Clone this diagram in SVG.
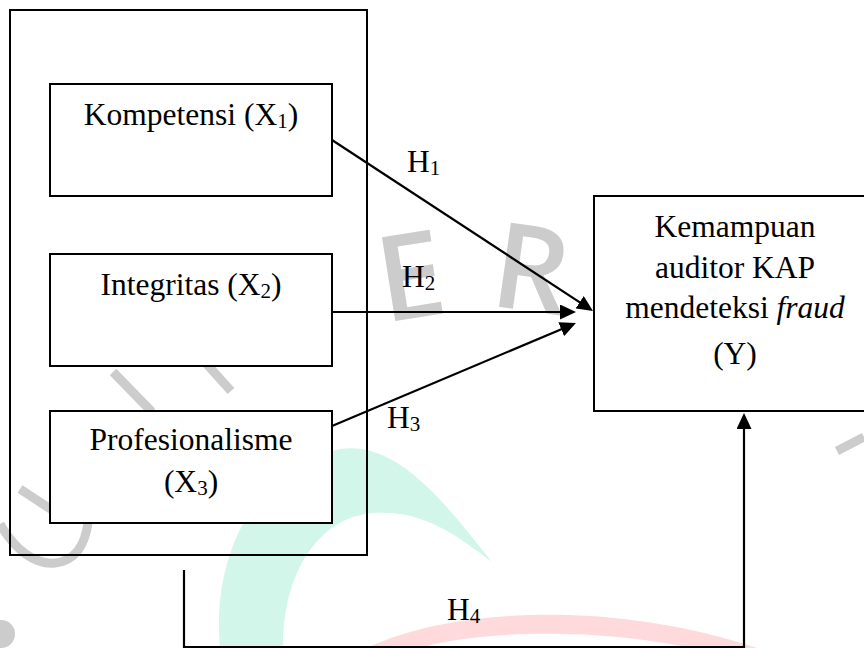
<svg xmlns="http://www.w3.org/2000/svg" width="864" height="648" viewBox="0 0 864 648">
  <style>
    .box { fill: #ffffff; stroke: #000000; stroke-width: 2; }
    .frame { fill: none; stroke: #000000; stroke-width: 2; }
    .lbl { font-family: "Liberation Serif", "Times New Roman", serif; font-size: 31.5px; fill: #000000; }
    .sub { font-size: 21px; }
    .conn { fill: none; stroke: #000000; stroke-width: 2.2; }
    .wm { fill: none; stroke: #cccccc; stroke-width: 9; stroke-linecap: butt; }
    .wmt { font-family: "Open Sans", "DejaVu Sans", sans-serif; font-size: 119px; font-weight: 600; fill: #cccccc; }
  </style>
  <defs>
    <marker id="arrow" markerUnits="userSpaceOnUse" markerWidth="17" markerHeight="15" refX="13" refY="7.5" orient="auto">
      <path d="M0,0 L16,7.5 L0,15 Z" fill="#000000"/>
    </marker>
  </defs>
  <rect width="864" height="648" fill="#ffffff"/>

  <!-- watermark -->
  <g id="watermark">
    <path d="M220,648 C212,560 250,470 340,449 C400,440 450,510 492,562 C450,530 420,510 373,513 C320,517 283,570 283,648 Z" fill="#d2f6ea"/>
    <path d="M367,648 C440,612 600,596 757,648 L690,648 C600,628 480,630 420,648 Z" fill="#ffdadc"/>
    <path class="wm" d="M113,372 L152,412"/>
    <path class="wm" d="M203,360 L231,391"/>
    <path class="wm" d="M20,489 L52,510"/>
    <path class="wm" d="M0,524 C15,550 35,565 55,563 C75,561 85,545 88,523"/>
    <path class="wm" d="M837,451 L864,437" stroke-width="10"/>
    <circle cx="1" cy="634" r="14" fill="#cccccc"/>
    <text class="wmt" x="384" y="321" transform="rotate(-9 395 320)">E</text>
    <text class="wmt" x="488" y="307" transform="rotate(8 500 307)">R</text>
  </g>

  <g id="group-x">
    <rect class="frame" x="10" y="10" width="357" height="545"/>
  </g>

  <g id="node-x1">
    <rect class="box" x="50" y="84" width="282" height="112"/>
    <text class="lbl" x="191" y="125" text-anchor="middle">Kompetensi (X<tspan class="sub" dy="3">1</tspan><tspan dy="-3">)</tspan></text>
  </g>

  <g id="node-x2">
    <rect class="box" x="50" y="254" width="282" height="112"/>
    <text class="lbl" x="191" y="295" text-anchor="middle">Integritas (X<tspan class="sub" dy="3">2</tspan><tspan dy="-3">)</tspan></text>
  </g>

  <g id="node-x3">
    <rect class="box" x="50" y="411" width="282" height="112"/>
    <text class="lbl" x="191" y="450" text-anchor="middle">Profesionalisme</text>
    <text class="lbl" x="191" y="492" text-anchor="middle">(X<tspan class="sub" dy="3">3</tspan><tspan dy="-3">)</tspan></text>
  </g>

  <g id="node-y">
    <rect class="box" x="594" y="196" width="290" height="215"/>
    <text class="lbl" x="735" y="237" text-anchor="middle">Kemampuan</text>
    <text class="lbl" x="735" y="278" text-anchor="middle">auditor KAP</text>
    <text class="lbl" x="735" y="318" text-anchor="middle">mendeteksi <tspan font-style="italic">fraud</tspan></text>
    <text class="lbl" x="735" y="364" text-anchor="middle">(Y)</text>
  </g>

  <g id="connectors">
    <line class="conn" x1="332" y1="140" x2="590.5" y2="309.4" marker-end="url(#arrow)"/>
    <line class="conn" x1="332" y1="312" x2="573" y2="312" marker-end="url(#arrow)"/>
    <line class="conn" x1="332" y1="426" x2="573.2" y2="324.2" marker-end="url(#arrow)"/>
    <path class="conn" d="M184,570 V647 H744 V416" marker-end="url(#arrow)"/>
    <text class="lbl" x="407" y="172">H<tspan class="sub" dy="3">1</tspan></text>
    <text class="lbl" x="402" y="287">H<tspan class="sub" dy="3">2</tspan></text>
    <text class="lbl" x="387" y="428">H<tspan class="sub" dy="3">3</tspan></text>
    <text class="lbl" x="447" y="620">H<tspan class="sub" dy="3">4</tspan></text>
  </g>
</svg>
